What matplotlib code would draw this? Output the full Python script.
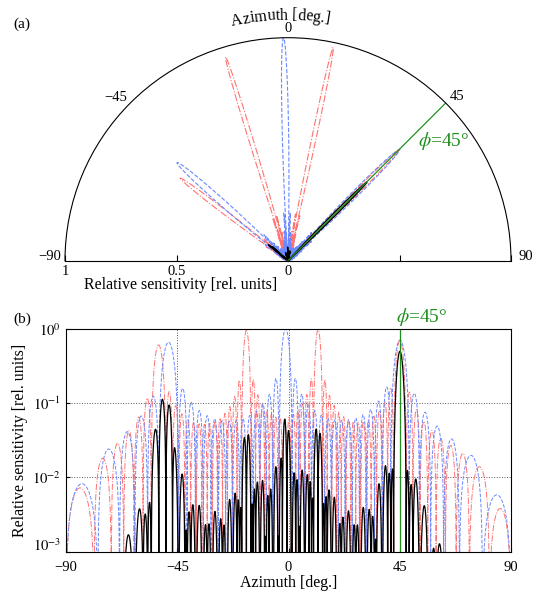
import numpy as np
import matplotlib
matplotlib.use('Agg')
import matplotlib.pyplot as plt
from matplotlib.transforms import offset_copy, blended_transform_factory
from matplotlib.ticker import NullLocator, FixedLocator, FixedFormatter

plt.rcParams['font.family'] = ['Liberation Serif', 'DejaVu Serif']
plt.rcParams['mathtext.fontset'] = 'stix'
plt.rcParams['axes.unicode_minus'] = True

# ---------------- data ----------------
# null azimuths [deg] that bound each lobe, and the peak of each lobe
red_nulls = [-90, -78.64, -71.67, -66.63, -62.45, -58.80, -55.50, -49.61, -46.92,
             -44.36, -41.90, -39.54, -37.26, -35.04, -32.88, -30.77, -28.71, -26.69,
             -24.70, -22.75, -20.82, -18.91, -15.17, -13.32, -11.49, -9.67, -7.85,
             -6.05, -4.25, -2.46, -0.67, 1.12, 2.92, 4.71, 6.51, 8.31, 10.13, 13.79,
             15.64, 17.51, 19.40, 21.31, 23.24, 25.21, 27.20, 29.23, 31.30, 33.42,
             35.60, 37.83, 40.13, 42.52, 47.59, 50.32, 53.21, 56.32, 59.70, 63.46,
             67.80, 73.16, 81.25, 90]
red_peaks = [0.0072, 0.0181, 0.0288, 0.0424, 0.0651, 0.117,
             0.609,
             0.143, 0.0927, 0.0719, 0.0613, 0.0556, 0.0527, 0.0521, 0.0534, 0.0567,
             0.0628, 0.0729, 0.0902, 0.123, 0.2025,
             0.956,
             0.2087, 0.1295, 0.0968, 0.0800, 0.0704, 0.0650, 0.0627, 0.0628, 0.0653,
             0.0709, 0.0807, 0.0980, 0.1315, 0.2125,
             0.978,
             0.2083, 0.1271, 0.0934, 0.0759, 0.0656, 0.0596, 0.0564, 0.0553, 0.0564,
             0.0599, 0.0667, 0.0790, 0.1031, 0.1618,
             0.707,
             0.1414, 0.0821, 0.0568, 0.0429, 0.0337, 0.0270, 0.0210, 0.0139, 0.0038]

blue_nulls = [-90, -77.09, -68.33, -62.11, -56.97, -52.46, -44.59, -41.04, -37.67,
              -34.44, -31.34, -28.34, -25.42, -22.57, -19.78, -17.03, -14.33, -11.65,
              -9.01, -6.38, -3.76, 1.45, 4.06, 6.67, 9.30, 11.95, 14.63, 17.34, 20.09,
              22.89, 25.75, 28.68, 31.69, 34.80, 38.04, 41.42, 48.81, 52.94, 57.51,
              62.74, 69.13, 78.47, 90]
blue_peaks = [0.0082, 0.0241, 0.0413, 0.0672, 0.1244,
              0.664,
              0.158, 0.1025, 0.0796, 0.0679, 0.0615, 0.0582, 0.0574, 0.0586, 0.0620,
              0.0683, 0.0788, 0.0969, 0.1314, 0.2145,
              1.0,
              0.2150, 0.1320, 0.0975, 0.0795, 0.0690, 0.0628, 0.0595, 0.0584, 0.0595,
              0.0630, 0.0699, 0.0824, 0.1067, 0.1656,
              0.707,
              0.1358, 0.0756, 0.0491, 0.0330, 0.0198, 0.0058]

steer_az = 45
az_ticks = [-90, -45, 0, 45, 90]
az_tick_labels = ['\u221290', '\u221245', '0', '45', '90']
r_ticks = [0, 0.5, 1]
r_tick_labels = ['0', '0.5', '1']
y_ticks = [1e-3, 1e-2, 1e-1, 1e0]
y_tick_labels = ['$10^{-3}$', '$10^{-2}$', '$10^{-1}$', '$10^{0}$']

# ---------------- curves built lobe by lobe ----------------
az = np.linspace(-90, 90, 18001)


def lobe_curve(nulls, peaks):
    y = np.zeros_like(az)
    for a, b, p in zip(nulls[:-1], nulls[1:], peaks):
        m = (az >= a) & (az <= b)
        t = (az[m] - a) / (b - a)
        if p >= 0.5:      # main / grating lobe: sinc-shaped
            y[m] = p * np.sinc(2 * t - 1)
        else:             # side lobe: arch
            y[m] = p * np.sin(np.pi * t)
    return np.abs(y)


red = lobe_curve(red_nulls, red_peaks)
blue = lobe_curve(blue_nulls, blue_peaks)
black = red * blue  # product of the two patterns

RED = '#ff7373'
BLUE = '#6a88ff'
GREEN = '#1f8f1f'

W, H = 536, 592
fig = plt.figure(figsize=(W / 100, H / 100), dpi=100)


def px(x, y):
    return x / W, 1 - y / H


# ---------------- (a) polar half plot ----------------
cx, cy, R = 288.0, 260.7, 223.0
side = 2 * R
box_bottom = cy + 0.25 * side
axp = fig.add_axes([(cx - R) / W, 1 - box_bottom / H, side / W, side / H],
                   projection='polar')
axp.set_theta_zero_location('N')
axp.set_theta_direction(-1)
axp.set_thetamin(-90)
axp.set_thetamax(90)
axp.set_rlim(0, 1)
axp.grid(False)
th = np.deg2rad(az)
axp.plot(th, red, color=RED, lw=0.8, ls='-.')
axp.plot(th, blue, color=BLUE, lw=0.8, ls='--')
axp.plot(th, black, color='k', lw=1.0)
axp.plot([np.deg2rad(steer_az)] * 2, [0, 1], color=GREEN, lw=0.9)
axp.set_xticks(np.deg2rad(az_ticks))
axp.set_xticklabels([])
axp.tick_params(axis='x', direction='in', length=4)
axp.set_yticks(r_ticks)
axp.set_yticklabels([])
axp.tick_params(axis='y', left=True, right=True, direction='in', length=4)
for sp in axp.spines.values():
    sp.set_linewidth(0.8)
# azimuth tick labels around the arc
theta_label_pos = [(50, 256), (116, 97.5), (288, 29), (457, 96), (526, 256)]
for (x, y), lab in zip(theta_label_pos, az_tick_labels):
    fig.text(*px(x, y), lab, ha='center', va='center', fontsize=10.5)
tr = offset_copy(axp.transData, fig=fig, y=-3, units='points')
for r, lab in zip(r_ticks, r_tick_labels):
    axp.text(np.deg2rad(-90), r, lab, transform=tr, ha='center', va='top', fontsize=10.5)
fig.text(*px(181, 285), 'Relative sensitivity [rel. units]', ha='center',
         va='center', fontsize=11.5)
fig.text(*px(443.5, 140.5), r'$\phi$=45°', color=GREEN, ha='center',
         va='center', fontsize=14)


def arc_text(ax, s, r, fontsize, center_deg=0.0):
    fig.canvas.draw()
    renderer = fig.canvas.get_renderer()
    widths = []
    for ch in s:
        if ch == ' ':
            widths.append(fontsize * 0.25 * fig.dpi / 72)
            continue
        t = fig.text(0, 0, ch, fontsize=fontsize)
        widths.append(t.get_window_extent(renderer=renderer).width)
        t.remove()
    r_px = r * R
    total = sum(widths) / r_px
    pos = np.deg2rad(center_deg) - total / 2
    for ch, w in zip(s, widths):
        a = pos + w / 2 / r_px
        if ch != ' ':
            ax.text(a, r, ch, rotation=-np.degrees(a), ha='center', va='baseline',
                    rotation_mode='anchor', fontsize=fontsize)
        pos += w / r_px


arc_text(axp, 'Azimuth [deg.]', 1.082, 11.5, center_deg=-1.8)
fig.text(*px(22, 24), '(a)', ha='center', va='center', fontsize=11)

# ---------------- (b) log plot ----------------
ax = fig.add_axes([66 / W, 1 - 551.5 / H, 445 / W, 222.5 / H])
floor = 1e-6
ax.plot(az, np.maximum(red, floor), color=RED, lw=0.7, ls='-.')
ax.plot(az, np.maximum(blue, floor), color=BLUE, lw=0.7, ls='--')
ax.plot(az, np.maximum(black, floor), color='k', lw=0.9)
ax.axvline(steer_az, color=GREEN, lw=0.9)
ax.set_yscale('log')
ax.set_xlim(-90, 90)
ax.set_ylim(1e-3, 1)
ax.set_xticks(az_ticks)
ax.set_xticklabels(az_tick_labels, fontsize=10.5)
ax.yaxis.set_major_locator(FixedLocator(y_ticks))
ax.yaxis.set_major_formatter(FixedFormatter([''] + y_tick_labels[1:]))
ax.yaxis.set_minor_locator(NullLocator())
ax.tick_params(axis='y', labelsize=10.5)
ax.tick_params(axis='x', pad=6.5)
ax.tick_params(direction='in', length=3)
# lowest decade label sits slightly raised, as in the reference
ax.annotate(y_tick_labels[0], xy=(0, y_ticks[0]),
            xycoords=blended_transform_factory(ax.transAxes, ax.transData),
            xytext=(-3.5, 4), textcoords='offset points', ha='right', va='center',
            fontsize=10.5)
ax.grid(True, ls=':', color='0.35', lw=0.7)
for sp in ax.spines.values():
    sp.set_linewidth(0.8)
ax.set_xlabel('Azimuth [deg.]', fontsize=11.5, labelpad=1)
ax.set_ylabel('Relative sensitivity [rel. units]', fontsize=11.5, labelpad=3)
fig.text(*px(422, 316.5), r'$\phi$=45°', color=GREEN, ha='center',
         va='center', fontsize=14)
fig.text(*px(22, 319), '(b)', ha='center', va='center', fontsize=11)

fig.savefig('out.png', dpi=100)
